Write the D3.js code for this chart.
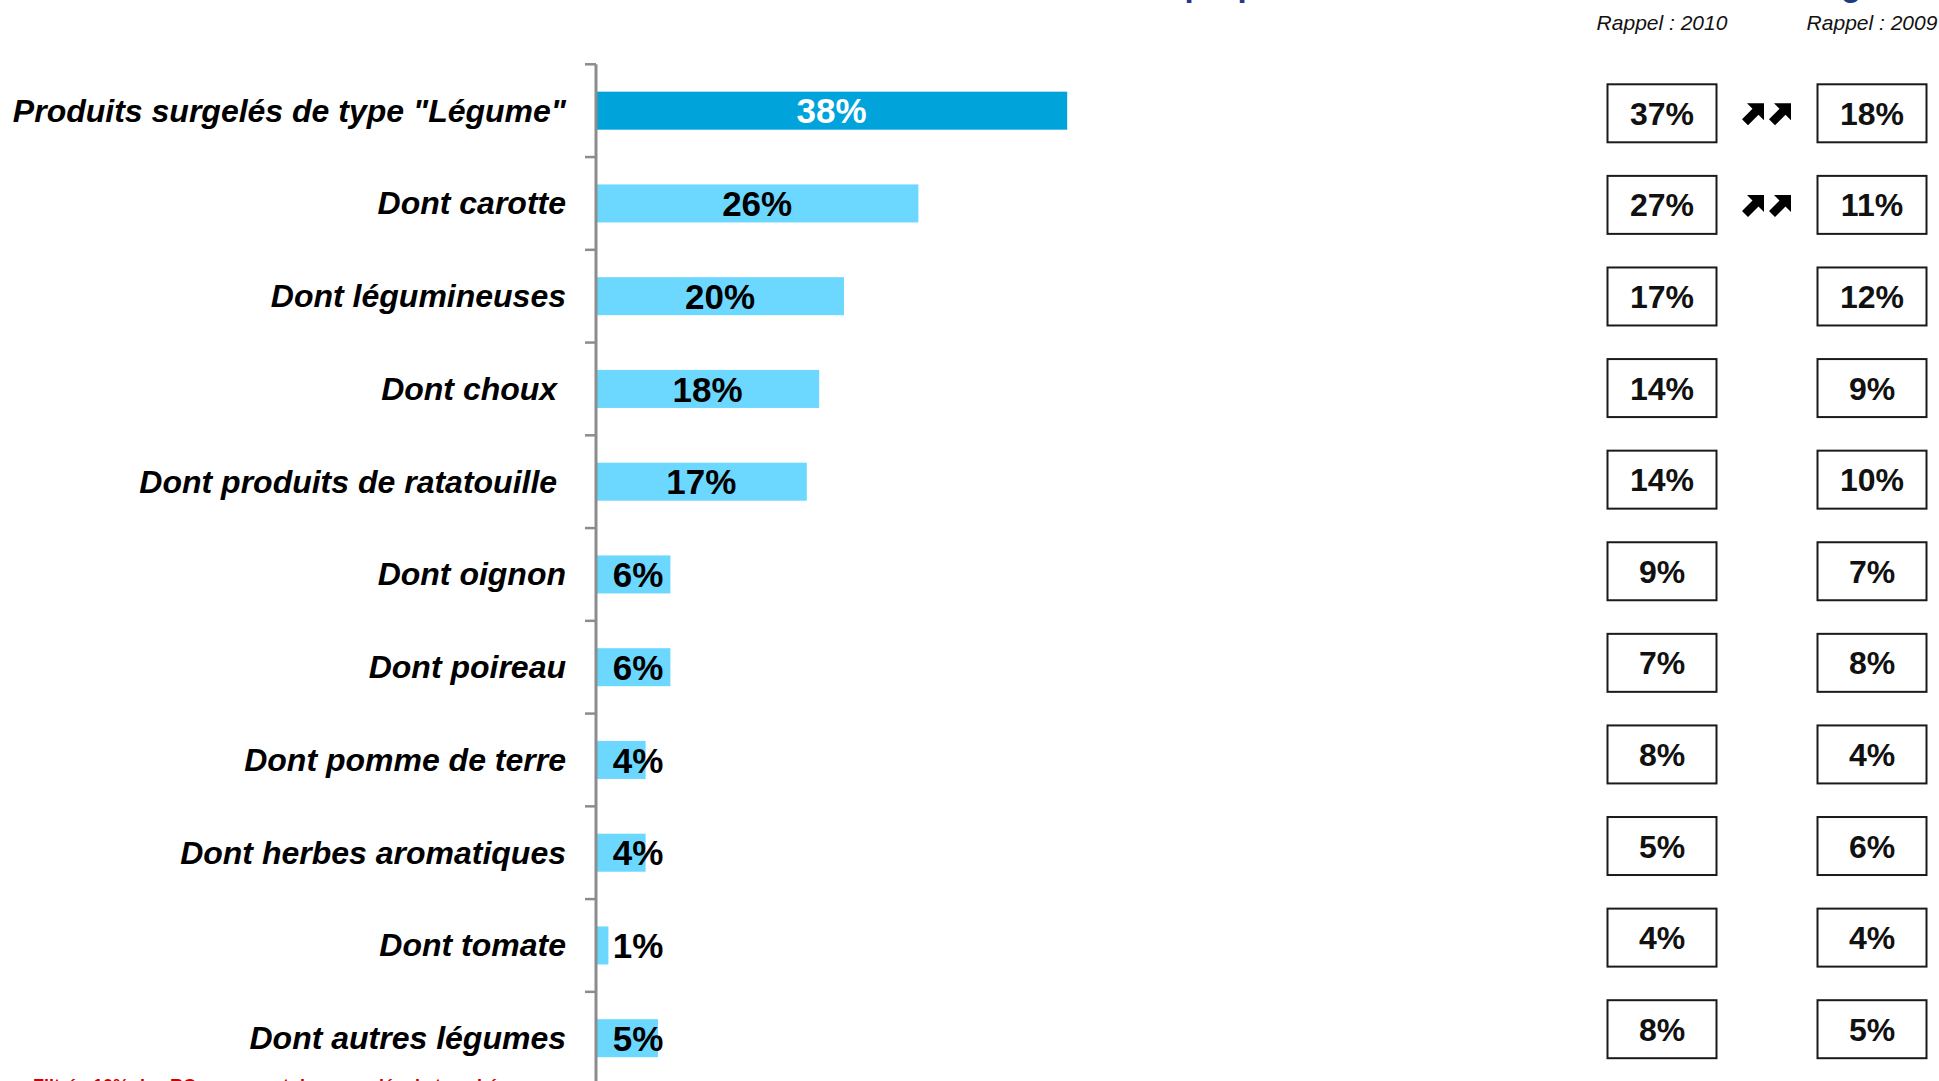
<!DOCTYPE html>
<html>
<head>
<meta charset="utf-8">
<script src="https://cdn.jsdelivr.net/npm/d3@7"></script>
<style>
  html, body { margin: 0; padding: 0; background: #fff; overflow: hidden; }
  svg { display: block; font-family: "Liberation Sans", Arial, sans-serif; }
  .cat { white-space: pre; }
</style>
</head>
<body>
<svg id="chart" width="1939" height="1081"></svg>
<script>
// Produits surgelés proposés, par type de légume (%), avec rappels 2010 et 2009
const categories = [
  'Produits surgelés de type "Légume"',
  "Dont carotte",
  "Dont légumineuses",
  "Dont choux ",
  "Dont produits de ratatouille ",
  "Dont oignon",
  "Dont poireau",
  "Dont pomme de terre",
  "Dont herbes aromatiques",
  "Dont tomate",
  "Dont autres légumes"
];
const values2011 = [38, 26, 20, 18, 17, 6, 6, 4, 4, 1, 5];
const rappel2010 = [37, 27, 17, 14, 14, 9, 7, 8, 5, 4, 8];
const rappel2009 = [18, 11, 12, 9, 10, 7, 8, 4, 6, 4, 5];
const trendUp = [true, true, false, false, false, false, false, false, false, false, false];
const columnHeaders = ["Rappel : 2010", "Rappel : 2009"];
const titleText = "Taux de proposition en restauration collective : Légume";
const noteText = "Filtré : 10% des RC proposant des surgelés de type Légume";

const svg = d3.select("#chart");
const fmt = v => v + "%";

// Scales
const x = d3.scaleLinear().domain([0, 100]).range([596, 1836]);
const y = d3.scaleBand().domain(categories).range([64.3, 1084.6])
  .paddingInner(0.59).paddingOuter(0.295);
const yBox = d3.scaleBand().domain(categories).range([67.5, 1075]);
const colX = d3.scalePoint().domain(columnHeaders).range([1662, 1872]);

// Title (partly above the page edge)
svg.append("text")
  .attr("x", 1053).attr("y", -4)
  .attr("font-size", 33).attr("font-weight", "bold")
  .attr("fill", "#1F3A84")
  .text(titleText);

// Bars
svg.append("g").selectAll("rect")
  .data(values2011)
  .join("rect")
  .attr("x", x(0))
  .attr("y", (d, i) => y(categories[i]))
  .attr("width", d => x(d) - x(0))
  .attr("height", y.bandwidth())
  .attr("fill", (d, i) => i === 0 ? "#00A3DA" : "#6DD8FF");

// Category axis: line with ticks between categories
const bandStep = y.step();
const axisTop = y.range()[0];
const axisG = svg.append("g");
axisG.append("line")
  .attr("x1", x(0)).attr("x2", x(0))
  .attr("y1", axisTop).attr("y2", 1081)
  .attr("stroke", "#8C8C8C").attr("stroke-width", 3);
axisG.selectAll("line.tick")
  .data(d3.range(categories.length + 1))
  .join("line")
  .attr("class", "tick")
  .attr("x1", x(0) - 11).attr("x2", x(0))
  .attr("y1", i => axisTop + i * bandStep).attr("y2", i => axisTop + i * bandStep)
  .attr("stroke", "#8C8C8C").attr("stroke-width", 2.5);

// Category labels
svg.append("g").selectAll("text")
  .data(categories)
  .join("text")
  .attr("class", "cat")
  .attr("x", 566)
  .attr("y", d => y(d) + y.bandwidth() / 2)
  .attr("dy", "0.34em")
  .attr("text-anchor", "end")
  .attr("font-size", 32).attr("font-weight", "bold").attr("font-style", "italic")
  .attr("fill", "#000")
  .text(d => d);

// Value labels on bars
svg.append("g").selectAll("text")
  .data(values2011)
  .join("text")
  .attr("x", d => Math.max(x(d / 2), x(0) + 42))
  .attr("y", (d, i) => y(categories[i]) + y.bandwidth() / 2)
  .attr("dy", "0.36em")
  .attr("text-anchor", "middle")
  .attr("font-size", 35).attr("font-weight", "bold")
  .attr("fill", (d, i) => i === 0 ? "#fff" : "#000")
  .text(fmt);

// Reminder columns
svg.append("g").selectAll("text")
  .data(columnHeaders)
  .join("text")
  .attr("x", d => colX(d))
  .attr("y", 30)
  .attr("text-anchor", "middle")
  .attr("font-size", 21).attr("font-style", "italic")
  .attr("fill", "#111")
  .text(d => d);

const boxW = 109, boxH = 58;
[rappel2010, rappel2009].forEach((vals, c) => {
  const cx = colX(columnHeaders[c]);
  const g = svg.append("g").selectAll("g")
    .data(vals)
    .join("g")
    .attr("transform", (d, i) => `translate(${cx},${yBox(categories[i]) + yBox.bandwidth() / 2})`);
  g.append("rect")
    .attr("x", -boxW / 2).attr("y", -boxH / 2)
    .attr("width", boxW).attr("height", boxH)
    .attr("fill", "#fff").attr("stroke", "#1a1a1a").attr("stroke-width", 2);
  g.append("text")
    .attr("text-anchor", "middle").attr("dy", "0.36em")
    .attr("font-size", 32).attr("font-weight", "bold")
    .attr("fill", "#111")
    .text(fmt);
});

// Double up-arrows for significant increases
const arrowPath = "M22,0 L22,17 L16.5,11.5 L6,22 L0,16 L10.5,5.5 L5,0 Z";
const arrowRows = categories.filter((d, i) => trendUp[i]);
const arrows = svg.append("g").selectAll("g")
  .data(arrowRows)
  .join("g")
  .attr("transform", d => `translate(${(colX(columnHeaders[0]) + colX(columnHeaders[1])) / 2},${yBox(d) + yBox.bandwidth() / 2})`);
[-25, 2].forEach(dx => {
  arrows.append("path")
    .attr("d", arrowPath)
    .attr("transform", `translate(${dx},-10)`)
    .attr("fill", "#000");
});

// Footnote (partly below the page edge)
svg.append("text")
  .attr("x", 33).attr("y", 1092)
  .attr("font-size", 18).attr("font-weight", "bold")
  .attr("fill", "#CC0000")
  .text(noteText);
</script>
</body>
</html>
